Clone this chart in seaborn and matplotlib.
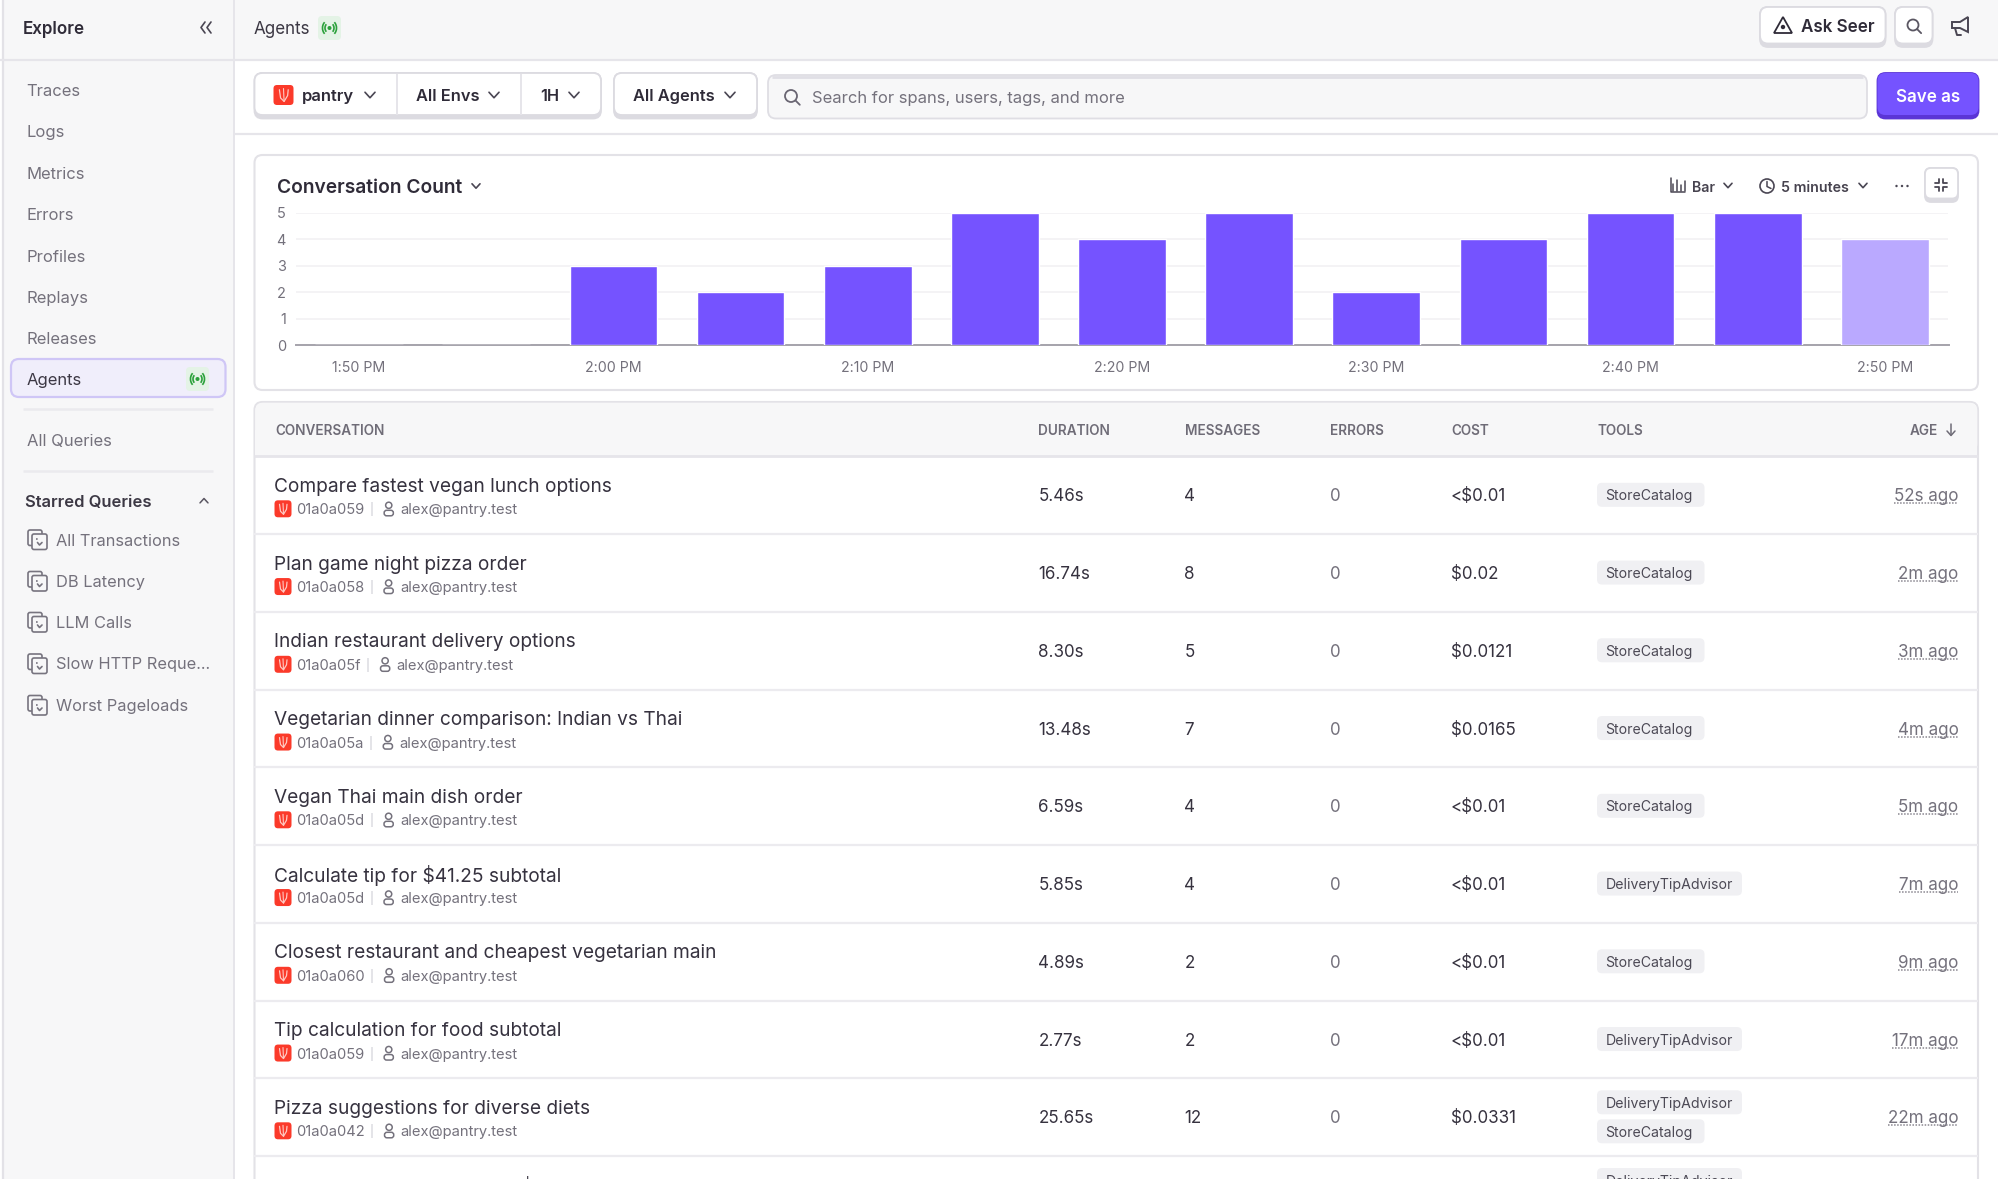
import matplotlib
matplotlib.use("Agg")
import matplotlib.pyplot as plt
import seaborn as sns
import pandas as pd
from matplotlib.patches import FancyBboxPatch, Rectangle, Circle, Arc, Polygon

# ---------- chart data ----------
bucket_labels = ["1:50 PM", "1:55 PM", "2:00 PM", "2:05 PM", "2:10 PM", "2:15 PM", "2:20 PM",
                 "2:25 PM", "2:30 PM", "2:35 PM", "2:40 PM", "2:45 PM", "2:50 PM"]
conversation_counts = [0, 0, 3, 2, 3, 5, 4, 5, 2, 4, 5, 5, 4]
y_ticks = [0, 1, 2, 3, 4, 5]

# ---------- table data ----------
titles = ["Compare fastest vegan lunch options", "Plan game night pizza order",
          "Indian restaurant delivery options", "Vegetarian dinner comparison: Indian vs Thai",
          "Vegan Thai main dish order", "Calculate tip for $41.25 subtotal",
          "Closest restaurant and cheapest vegetarian main", "Tip calculation for food subtotal",
          "Pizza suggestions for diverse diets", "Vegan meal delivery under $10"]
trace_ids = ["01a0a059", "01a0a058", "01a0a05f", "01a0a05a", "01a0a05d", "01a0a05d",
             "01a0a060", "01a0a059", "01a0a042"]
user = "alex@pantry.test"
durations = ["5.46s", "16.74s", "8.30s", "13.48s", "6.59s", "5.85s", "4.89s", "2.77s", "25.65s"]
messages = ["4", "8", "5", "7", "4", "4", "2", "2", "12"]
errors = ["0", "0", "0", "0", "0", "0", "0", "0", "0"]
costs = ["<$0.01", "$0.02", "$0.0121", "$0.0165", "<$0.01", "<$0.01", "<$0.01", "<$0.01", "$0.0331"]
tools = [["StoreCatalog"], ["StoreCatalog"], ["StoreCatalog"], ["StoreCatalog"], ["StoreCatalog"],
         ["DeliveryTipAdvisor"], ["StoreCatalog"], ["DeliveryTipAdvisor"],
         ["DeliveryTipAdvisor", "StoreCatalog"]]
ages = ["52s ago", "2m ago", "3m ago", "4m ago", "5m ago", "7m ago", "9m ago", "17m ago", "22m ago"]
columns = ["CONVERSATION", "DURATION", "MESSAGES", "ERRORS", "COST", "TOOLS"]
nav_items = ["Traces", "Logs", "Metrics", "Errors", "Profiles", "Replays", "Releases", "Agents"]
starred = ["All Transactions", "DB Latency", "LLM Calls", "Slow HTTP Reque...", "Worst Pageloads"]

# ---------- palette ----------
PURPLE = "#7553ff"
PURPLE_LIGHT = "#baa9ff"
INK = "#2f2b38"
MUTED = "#74717c"
LINE = "#e6e5ea"
HEADBG = "#f7f7f8"
BADGE = "#e4f3e6"
GREEN = "#2ba13b"
RED = "#fb3a2a"

sns.set_theme(style="white")
plt.rcParams["font.family"] = ["Inter", "DejaVu Sans"]

W, H = 1999, 1179
fig = plt.figure(figsize=(W / 100, H / 100), dpi=100, facecolor="white")
ui = fig.add_axes([0, 0, 1, 1], zorder=0)
ui.set_xlim(0, W)
ui.set_ylim(H, 0)
ui.axis("off")


def px(s):
    return s * 0.72


def box(x0, y0, x1, y1, fc="white", ec="none", lw=1.3, r=8, z=2):
    p = FancyBboxPatch((x0, y0), x1 - x0, y1 - y0, boxstyle=f"round,pad=0,rounding_size={r}",
                       fc=fc, ec=ec, lw=lw, zorder=z)
    ui.add_patch(p)
    return p


def button(x0, y0, x1, y1, fc="white", shadow="#dcdbe1", r=8):
    box(x0, y0, x1, y1, fc=shadow, ec=shadow, r=r, z=2)
    box(x0, y0, x1, y1 - 3.5, fc=fc, ec=shadow, r=r, z=3)


def rect(x0, y0, x1, y1, fc, z=1):
    ui.add_patch(Rectangle((x0, y0), x1 - x0, y1 - y0, fc=fc, ec="none", zorder=z))


def hline(x0, x1, y, c=LINE, lw=1.4, z=4):
    ui.plot([x0, x1], [y, y], color=c, lw=lw, zorder=z, solid_capstyle="butt")


def vline(x, y0, y1, c=LINE, lw=1.4, z=4):
    ui.plot([x, x], [y0, y1], color=c, lw=lw, zorder=z, solid_capstyle="butt")


def txt(x, y, s, size=17, c=INK, w="normal", ha="left", z=6, **kw):
    return ui.text(x, y, s, fontsize=px(size), color=c, fontweight=w, ha=ha, va="center_baseline",
                   zorder=z, **kw)


def chevron(x, y, s=5, c="#4a4653", up=False, lw=1.2):
    d = -s * 0.55 if up else s * 0.55
    ui.plot([x - s, x, x + s], [y - d, y + d, y - d], color=c, lw=lw, zorder=6,
            solid_capstyle="round", solid_joinstyle="round")


def radio(x, y):
    box(x - 11.5, y - 12, x + 11.5, y + 12, fc=BADGE, r=4, z=5)
    ui.add_patch(Circle((x, y), 2, fc=GREEN, ec="none", zorder=6))
    for r_ in (4.5, 7):
        ui.add_patch(Arc((x, y), 2 * r_, 2 * r_ * 1.15, theta1=-50, theta2=50, color=GREEN, lw=1.2, zorder=6))
        ui.add_patch(Arc((x, y), 2 * r_, 2 * r_ * 1.15, theta1=130, theta2=230, color=GREEN, lw=1.2, zorder=6))


def logo(x0, y0, s):
    box(x0, y0, x0 + s, y0 + s, fc=RED, r=3.5, z=6)
    u = s / 17
    ui.plot([x0 + 5 * u, x0 + 6 * u, x0 + 9 * u, x0 + 12 * u, x0 + 12.5 * u],
            [y0 + 4 * u, y0 + 11 * u, y0 + 14 * u, y0 + 9 * u, y0 + 4 * u],
            color="#ffc9c2", lw=0.9, zorder=7)
    ui.plot([x0 + 8.5 * u, x0 + 9 * u], [y0 + 3 * u, y0 + 14 * u], color="#ffc9c2", lw=0.8, zorder=7)


def person(x, y, c=MUTED):
    ui.add_patch(Circle((x, y - 3.8), 3.1, fc="none", ec=c, lw=1.1, zorder=6))
    ui.add_patch(FancyBboxPatch((x - 4.6, y + 1.2), 9.2, 5.5, boxstyle="round,pad=0,rounding_size=2.5",
                                fc="none", ec=c, lw=1.1, zorder=6))


def magnifier(x, y, r=5.5, c="#5a5662"):
    ui.add_patch(Circle((x - 1, y - 1), r, fc="none", ec=c, lw=1.3, zorder=6))
    ui.plot([x + r * 0.62, x + r * 1.3], [y + r * 0.62, y + r * 1.3], color=c, lw=1.3, zorder=6)


def saved_icon(x, y, c="#77747f"):
    box(x - 9, y - 9.5, x + 5, y + 6, fc="none", ec=c, lw=1.2, r=2, z=6)
    box(x - 5, y - 5.5, x + 10, y + 10, fc=HEADBG, ec=c, lw=1.2, r=2, z=6)
    ui.plot([x + 0.5, x + 2.5, x + 5], [y + 3, y + 5.5, y + 3], color=c, lw=1.2, zorder=7)
    ui.plot([x - 0.5, x + 5.5], [y - 0.5, y - 0.5], color=c, lw=1.2, ls=(0, (1, 3)), zorder=7)


# ---------- page frame ----------
rect(3.5, 0, 234, H, HEADBG)
rect(234, 0, W, 60, HEADBG)
vline(3.5, 0, H, "#e3e2e7", 1.6)
vline(234, 0, H, LINE, 1.4)
hline(0, W, 60, LINE, 1.6)
hline(234, W, 134, LINE, 1.6)

# ---------- sidebar ----------
txt(23, 28, "Explore", 17, INK, "semibold")
for dx in (0, 6):
    ui.plot([205 + dx, 201 + dx, 205 + dx], [22, 27.5, 33], color="#4a4653", lw=1.2, zorder=6)
box(11, 359, 225.5, 397, fc="#f0eefb", ec="#cfc6f6", lw=1.6, r=8, z=3)
for label, y in zip(nav_items, [90, 131.5, 173, 214, 255.5, 297, 338, 379]):
    txt(26.5, y, label, 16.6, "#3c3844" if label == "Agents" else MUTED)
radio(197.5, 379)
hline(23, 213, 409, "#ebeaee", 1.8)
txt(27, 440, "All Queries", 16.6, MUTED)
hline(23, 213, 470.7, "#ebeaee", 1.8)
txt(25.5, 500.7, "Starred Queries", 16.6, "#3c3844", "semibold")
chevron(204, 500.7, 4, up=True, c="#5a5662", lw=1.1)
for label, y in zip(starred, [539.5, 581, 622, 663.5, 705]):
    saved_icon(37, y)
    txt(56, y, label, 16.4, MUTED)

# ---------- top bar ----------
txt(254, 28, "Agents", 17, "#3c3844")
radio(329.5, 28)
button(1760, 7, 1885.5, 47)
ui.add_patch(Polygon([[1783, 17], [1774, 33], [1792, 33]], closed=True, fc="none", ec=INK, lw=1.3, zorder=6))
ui.add_patch(Circle((1783, 27), 2.2, fc=INK, ec="none", zorder=6))
txt(1801, 26, "Ask Seer", 17, INK, "semibold")
button(1895, 7, 1932.5, 47)
magnifier(1914, 26)
ui.add_patch(Polygon([[1952, 22], [1960, 22], [1968, 17], [1968, 32], [1960, 28], [1952, 28]], closed=True,
                     fc="none", ec="#4a4653", lw=1.4, zorder=6))
ui.plot([1955, 1957, 1961], [28, 35, 35], color="#4a4653", lw=1.4, zorder=6)

# ---------- filter row ----------
button(254.5, 73, 601, 118.5)
button(614, 73, 757, 118.5)
vline(397.5, 74, 115, LINE)
vline(521, 74, 115, LINE)
logo(273.5, 85, 20)
txt(302, 95, "pantry", 16.6, INK, "semibold")
chevron(370, 95, 5)
txt(416.5, 95, "All Envs", 16.4, INK, "semibold")
chevron(494, 95, 5)
txt(540, 95, "1H", 16.4, INK, "semibold")
chevron(574, 95, 5)
txt(633.5, 95, "All Agents", 16.4, INK, "semibold")
chevron(730, 95, 5)
box(768, 75, 1867, 118.5, fc=HEADBG, ec="#dfdee4", r=8, z=2)
hline(772, 1863, 76.5, "#e0dfe5", 2)
magnifier(792, 97, 6, "#6a6673")
txt(812, 97, "Search for spans, users, tags, and more", 16.6, MUTED)
box(1877.5, 73, 1978.5, 118.5, fc="#5b35d6", ec="#5b35d6", r=8, z=2)
box(1877.5, 73, 1978.5, 115, fc=PURPLE, ec="none", r=8, z=3)
txt(1928, 95, "Save as", 17, "white", "semibold", ha="center")

# ---------- chart panel ----------
box(254.5, 155, 1978, 390, fc="white", ec="#e3e2e7", lw=1.5, r=8)
txt(277, 186, "Conversation Count", 19.2, INK, "semibold")
chevron(476, 186, 4)
for dx, h_ in zip((0, 4, 8, 12), (7, 11, 6, 10)):
    ui.plot([1673 + dx] * 2, [191 - h_, 191], color="#4a4653", lw=1.1, zorder=6)
ui.plot([1671, 1671, 1685], [178, 192, 192], color="#4a4653", lw=1.1, zorder=6)
txt(1692, 186, "Bar", 14.2, "#47434f", "semibold")
chevron(1728, 185.5, 4)
ui.add_patch(Circle((1767, 186), 7, fc="none", ec="#4a4653", lw=1.2, zorder=6))
ui.plot([1767, 1767, 1771], [181.5, 186.5, 188.5], color="#4a4653", lw=1.1, zorder=6)
txt(1781, 186, "5 minutes", 14.2, "#47434f", "semibold")
chevron(1863, 185.5, 4)
for dx in (-5.5, 0, 5.5):
    ui.add_patch(Circle((1902 + dx, 186), 1.2, fc="#4a4653", ec="none", zorder=6))
button(1925, 168, 1958, 202, r=6)
for sx, sy in ((-1, -1), (1, -1), (-1, 1), (1, 1)):
    ui.plot([1941.5 + sx * 2, 1941.5 + sx * 2, 1941.5 + sx * 6], [184.5 + sy * 6, 184.5 + sy * 2, 184.5 + sy * 2],
            color="#4a4653", lw=1.3, zorder=6)

# ---------- bar chart (seaborn) ----------
ax_left, ax_right, ax_top, ax_bottom = 295.5, 1948.5, 213, 345.5
ax = fig.add_axes([ax_left / W, 1 - ax_bottom / H, (ax_right - ax_left) / W, (ax_bottom - ax_top) / H], zorder=5)
ax.patch.set_alpha(0)
df = pd.DataFrame({"bucket": bucket_labels, "count": conversation_counts})
bar_colors = [PURPLE] * (len(bucket_labels) - 1) + [PURPLE_LIGHT]
sns.barplot(data=df, x="bucket", y="count", hue="bucket", palette=bar_colors, saturation=1,
            width=0.69, legend=False, ax=ax, zorder=3)
ax.set_xlim(-0.5, len(bucket_labels) - 0.5)
ax.set_ylim(0, 5)
ax.set_xlabel("")
ax.set_ylabel("")
ax.set_yticks(y_ticks)
ax.set_xticks(range(0, len(bucket_labels), 2))
ax.set_xticklabels(bucket_labels[::2])
ax.grid(axis="y", color="#f1f0f3", lw=1.1, zorder=0)
ax.set_axisbelow(True)
for s in ("top", "left", "right"):
    ax.spines[s].set_visible(False)
ax.spines["bottom"].set_color("#a5a3ab")
ax.spines["bottom"].set_linewidth(1.4)
ax.tick_params(axis="x", length=4.5, width=0.9, color="#8e8c94", labelcolor=MUTED,
               labelsize=px(14.2), pad=6.5)
ax.tick_params(axis="y", length=0, labelcolor=MUTED, labelsize=px(14.5), pad=7)

# ---------- table ----------
box(254.5, 402, 1978, 1240, fc="white", ec="#e3e2e7", lw=1.5, r=8)
box(255.2, 402.7, 1977.3, 452, fc=HEADBG, ec="none", r=8, z=3)
rect(255.2, 430, 1977.3, 456, HEADBG, z=3)
hline(254.5, 1978, 456.3, "#e6e5ea", 2)
col_x = [275.5, 1038.5, 1185.5, 1330.5, 1451.5, 1598]
for label, x in zip(columns, col_x):
    txt(x, 429.5, label, 13.6, "#6f6c77", "semibold")
txt(1938, 429.5, "AGE", 13.6, "#6f6c77", "semibold", ha="right")
ui.plot([1951, 1951], [424, 435], color="#6f6c77", lw=1.1, zorder=6)
ui.plot([1947, 1951, 1955], [431, 435.5, 431], color="#6f6c77", lw=1.1, zorder=6)

row_h = 77.75
row_top = 456.3
renderer = fig.canvas.get_renderer()
for i, title in enumerate(titles):
    top = row_top + i * row_h
    if i > 0:
        hline(254.5, 1978, top, "#ecebef", 1.6)
    txt(274.5, top + 28.5, title, 19.1, "#36323f", clip_on=True)
    if i >= len(trace_ids):
        continue
    logo(274.5, top + 44, 17)
    id_text = txt(296.5, top + 52.6, trace_ids[i], 14.7, MUTED)
    id_right = id_text.get_window_extent(renderer).x1
    vline(id_right + 7, top + 46, top + 60, "#dddce1", 1.1)
    person(id_right + 24, top + 52.8)
    txt(id_right + 35.5, top + 52.6, user, 14.7, MUTED)
    center = top + 38.5
    txt(1038.5, center, durations[i], 17, "#36323f")
    txt(1184.5, center, messages[i], 17, "#36323f")
    txt(1330, center, errors[i], 17, MUTED)
    txt(1451, center, costs[i], 17, "#36323f")
    ys = [center] if len(tools[i]) == 1 else [center - 14.5, center + 14.5]
    for tool, y in zip(tools[i], ys):
        x1 = 1742 if tool == "DeliveryTipAdvisor" else 1704.5
        box(1597, y - 12, x1, y + 12, fc="#f0f0f3", r=5, z=4)
        txt(1605.5, y, tool, 14.1, "#4c4955")
    age = txt(1958.5, center, ages[i], 17, MUTED, ha="right")
    ext = age.get_window_extent(renderer)
    ui.plot([ext.x0, 1958.5], [center + 8.5, center + 8.5], color="#8a8790", lw=1.1, ls=(0, (1, 1)), zorder=6)
# clipped tag of the partially visible last row
last_top = row_top + len(trace_ids) * row_h
box(1597, last_top + 12, 1742, last_top + 36, fc="#f0f0f3", r=5, z=4)
txt(1605.5, last_top + 24, "DeliveryTipAdvisor", 14.1, "#4c4955", clip_on=True)

fig.savefig("out.png", dpi=100, facecolor="white")
